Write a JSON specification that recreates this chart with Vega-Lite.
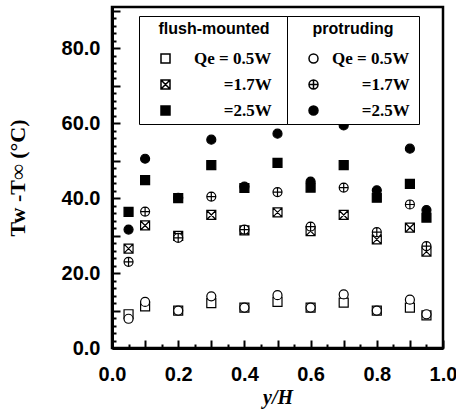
{
  "$schema": "https://vega.github.io/schema/vega-lite/v6.json",
  "width": 331,
  "height": 341,
  "autosize": "none",
  "padding": {"left": 112, "top": 7, "right": 13, "bottom": 68},
  "background": "white",
  "config": {
    "view": {"stroke": "black", "strokeWidth": 2.5},
    "axis": {"grid": false},
    "legend": {
      "orient": "none", "direction": "vertical",
      "padding": 5, "strokeColor": "black", "fillColor": "white",
      "titleFont": "Liberation Sans", "titleFontSize": 16, "titleFontWeight": "bold", "titleColor": "black",
      "titleAnchor": "middle", "titlePadding": 13,
      "labelFont": "Liberation Serif", "labelFontSize": 17, "labelFontWeight": "bold", "labelColor": "black",
      "symbolSize": 81, "rowPadding": 8
    }
  },
  "data": {
    "values": [
      {"type": "flush", "Qe": "0.5W", "x": 0.05, "y": 9.0},
      {"type": "flush", "Qe": "0.5W", "x": 0.1, "y": 11.1},
      {"type": "flush", "Qe": "0.5W", "x": 0.2, "y": 10.0},
      {"type": "flush", "Qe": "0.5W", "x": 0.3, "y": 12.0},
      {"type": "flush", "Qe": "0.5W", "x": 0.4, "y": 10.8},
      {"type": "flush", "Qe": "0.5W", "x": 0.5, "y": 12.3},
      {"type": "flush", "Qe": "0.5W", "x": 0.6, "y": 10.8},
      {"type": "flush", "Qe": "0.5W", "x": 0.7, "y": 12.1},
      {"type": "flush", "Qe": "0.5W", "x": 0.8, "y": 10.0},
      {"type": "flush", "Qe": "0.5W", "x": 0.9, "y": 10.8},
      {"type": "flush", "Qe": "0.5W", "x": 0.95, "y": 8.7},
      {"type": "flush", "Qe": "1.7W", "x": 0.05, "y": 26.5},
      {"type": "flush", "Qe": "1.7W", "x": 0.1, "y": 32.7},
      {"type": "flush", "Qe": "1.7W", "x": 0.2, "y": 29.9},
      {"type": "flush", "Qe": "1.7W", "x": 0.3, "y": 35.5},
      {"type": "flush", "Qe": "1.7W", "x": 0.4, "y": 31.4},
      {"type": "flush", "Qe": "1.7W", "x": 0.5, "y": 36.2},
      {"type": "flush", "Qe": "1.7W", "x": 0.6, "y": 31.2},
      {"type": "flush", "Qe": "1.7W", "x": 0.7, "y": 35.5},
      {"type": "flush", "Qe": "1.7W", "x": 0.8, "y": 29.0},
      {"type": "flush", "Qe": "1.7W", "x": 0.9, "y": 32.1},
      {"type": "flush", "Qe": "1.7W", "x": 0.95, "y": 25.7},
      {"type": "flush", "Qe": "2.5W", "x": 0.05, "y": 36.3},
      {"type": "flush", "Qe": "2.5W", "x": 0.1, "y": 44.8},
      {"type": "flush", "Qe": "2.5W", "x": 0.2, "y": 40.0},
      {"type": "flush", "Qe": "2.5W", "x": 0.3, "y": 48.8},
      {"type": "flush", "Qe": "2.5W", "x": 0.4, "y": 42.7},
      {"type": "flush", "Qe": "2.5W", "x": 0.5, "y": 49.4},
      {"type": "flush", "Qe": "2.5W", "x": 0.6, "y": 42.8},
      {"type": "flush", "Qe": "2.5W", "x": 0.7, "y": 48.8},
      {"type": "flush", "Qe": "2.5W", "x": 0.8, "y": 40.1},
      {"type": "flush", "Qe": "2.5W", "x": 0.9, "y": 43.8},
      {"type": "flush", "Qe": "2.5W", "x": 0.95, "y": 34.8},
      {"type": "protruding", "Qe": "0.5W", "x": 0.05, "y": 7.8},
      {"type": "protruding", "Qe": "0.5W", "x": 0.1, "y": 12.3},
      {"type": "protruding", "Qe": "0.5W", "x": 0.2, "y": 10.0},
      {"type": "protruding", "Qe": "0.5W", "x": 0.3, "y": 13.8},
      {"type": "protruding", "Qe": "0.5W", "x": 0.4, "y": 10.8},
      {"type": "protruding", "Qe": "0.5W", "x": 0.5, "y": 14.1},
      {"type": "protruding", "Qe": "0.5W", "x": 0.6, "y": 10.8},
      {"type": "protruding", "Qe": "0.5W", "x": 0.7, "y": 14.3},
      {"type": "protruding", "Qe": "0.5W", "x": 0.8, "y": 10.0},
      {"type": "protruding", "Qe": "0.5W", "x": 0.9, "y": 12.9},
      {"type": "protruding", "Qe": "0.5W", "x": 0.95, "y": 9.0},
      {"type": "protruding", "Qe": "1.7W", "x": 0.05, "y": 23.0},
      {"type": "protruding", "Qe": "1.7W", "x": 0.1, "y": 36.4},
      {"type": "protruding", "Qe": "1.7W", "x": 0.2, "y": 29.4},
      {"type": "protruding", "Qe": "1.7W", "x": 0.3, "y": 40.4},
      {"type": "protruding", "Qe": "1.7W", "x": 0.4, "y": 31.6},
      {"type": "protruding", "Qe": "1.7W", "x": 0.5, "y": 41.6},
      {"type": "protruding", "Qe": "1.7W", "x": 0.6, "y": 32.4},
      {"type": "protruding", "Qe": "1.7W", "x": 0.7, "y": 42.8},
      {"type": "protruding", "Qe": "1.7W", "x": 0.8, "y": 30.9},
      {"type": "protruding", "Qe": "1.7W", "x": 0.9, "y": 38.3},
      {"type": "protruding", "Qe": "1.7W", "x": 0.95, "y": 27.2},
      {"type": "protruding", "Qe": "2.5W", "x": 0.05, "y": 31.6},
      {"type": "protruding", "Qe": "2.5W", "x": 0.1, "y": 50.5},
      {"type": "protruding", "Qe": "2.5W", "x": 0.2, "y": 40.1},
      {"type": "protruding", "Qe": "2.5W", "x": 0.3, "y": 55.6},
      {"type": "protruding", "Qe": "2.5W", "x": 0.4, "y": 43.1},
      {"type": "protruding", "Qe": "2.5W", "x": 0.5, "y": 57.2},
      {"type": "protruding", "Qe": "2.5W", "x": 0.6, "y": 44.4},
      {"type": "protruding", "Qe": "2.5W", "x": 0.7, "y": 59.4},
      {"type": "protruding", "Qe": "2.5W", "x": 0.8, "y": 42.1},
      {"type": "protruding", "Qe": "2.5W", "x": 0.9, "y": 53.2},
      {"type": "protruding", "Qe": "2.5W", "x": 0.95, "y": 36.8}
    ]
  },
  "layer": [
    {
      "transform": [{"filter": "datum.type == 'flush'"}],
      "mark": {"type": "point", "filled": true, "stroke": "black", "strokeWidth": 1.2, "size": 81, "opacity": 1},
      "encoding": {
        "x": {
          "field": "x", "type": "quantitative",
          "scale": {"domain": [0, 1], "nice": false, "zero": false},
          "axis": {
            "orient": "bottom",
            "values": [0, 0.1, 0.2, 0.3, 0.4, 0.5, 0.6, 0.7, 0.8, 0.9, 1.0],
            "tickSize": -8, "tickWidth": 2, "tickColor": "black",
            "domain": true, "domainWidth": 3, "domainColor": "black",
            "labelExpr": "round(datum.value*10) % 2 == 0 ? format(datum.value, '.1f') : ''",
            "labelFont": "Liberation Sans", "labelFontSize": 20, "labelFontWeight": "bold", "labelColor": "black",
            "labelPadding": 24, "labelFlush": false, "labelOverlap": false,
            "title": "y/H", "titleFont": "Liberation Serif", "titleFontSize": 20, "titleFontStyle": "italic",
            "titleFontWeight": "bold", "titleColor": "black", "titlePadding": 3
          }
        },
        "y": {
          "field": "y", "type": "quantitative",
          "scale": {"domain": [0, 91], "nice": false, "zero": false},
          "axis": {
            "orient": "left",
            "values": [0, 10, 20, 30, 40, 50, 60, 70, 80, 90],
            "tickSize": -8, "tickWidth": 2, "tickColor": "black",
            "domain": true, "domainWidth": 3, "domainColor": "black",
            "labelExpr": "datum.value % 20 == 0 ? format(datum.value, '.1f') : ''",
            "labelFont": "Liberation Sans", "labelFontSize": 20, "labelFontWeight": "bold", "labelColor": "black",
            "labelPadding": 20, "labelFlush": false, "labelOverlap": false,
            "title": "Tw -T∞ (°C)", "titleFont": "Liberation Serif", "titleFontSize": 22,
            "titleFontWeight": "bold", "titleColor": "black", "titlePadding": 32
          }
        },
        "shape": {
          "field": "Qe", "type": "nominal",
          "scale": {"domain": ["0.5W", "1.7W", "2.5W"], "range": ["square", "M-1,-1H1V1H-1Z M-1,-1L1,1 M1,-1L-1,1", "square"]},
          "legend": {
            "title": "flush-mounted", "legendX": 27, "legendY": 9,
            "labelOffset": 20, "symbolOffset": 13,
            "labelExpr": "datum.value == '0.5W' ? 'Qe = 0.5W\u00a0\u00a0\u00a0\u200b' : '\u200b\u00a0\u00a0\u00a0\u00a0\u00a0\u00a0\u00a0=' + datum.value + '\u00a0\u00a0\u00a0\u200b'",
            "encode": {"symbols": {"update": {"stroke": {"value": "black"}, "strokeWidth": {"value": 1.2}}}}
          }
        },
        "fill": {
          "field": "Qe", "type": "nominal",
          "scale": {"domain": ["0.5W", "1.7W", "2.5W"], "range": ["white", "white", "black"]},
          "legend": {
            "title": "flush-mounted", "legendX": 27, "legendY": 9,
            "labelOffset": 20, "symbolOffset": 13,
            "labelExpr": "datum.value == '0.5W' ? 'Qe = 0.5W\u00a0\u00a0\u00a0\u200b' : '\u200b\u00a0\u00a0\u00a0\u00a0\u00a0\u00a0\u00a0=' + datum.value + '\u00a0\u00a0\u00a0\u200b'",
            "encode": {"symbols": {"update": {"stroke": {"value": "black"}, "strokeWidth": {"value": 1.2}}}}
          }
        }
      }
    },
    {
      "transform": [{"filter": "datum.type == 'protruding'"}],
      "mark": {"type": "point", "filled": true, "stroke": "black", "strokeWidth": 1.2, "size": 81, "opacity": 1},
      "encoding": {
        "x": {
          "field": "x", "type": "quantitative",
          "scale": {"domain": [0, 1], "nice": false, "zero": false},
          "axis": {
            "orient": "bottom",
            "values": [0.05, 0.15, 0.25, 0.35, 0.45, 0.55, 0.65, 0.75, 0.85, 0.95],
            "tickSize": -4, "tickWidth": 2, "tickColor": "black",
            "domain": false, "labels": false, "title": null
          }
        },
        "y": {
          "field": "y", "type": "quantitative",
          "scale": {"domain": [0, 91], "nice": false, "zero": false},
          "axis": {
            "orient": "left",
            "values": [2, 4, 6, 8, 12, 14, 16, 18, 22, 24, 26, 28, 32, 34, 36, 38, 42, 44, 46, 48, 52, 54, 56, 58, 62, 64, 66, 68, 72, 74, 76, 78, 82, 84, 86, 88],
            "tickSize": -4, "tickWidth": 2, "tickColor": "black",
            "domain": false, "labels": false, "title": null
          }
        },
        "shape": {
          "field": "Qe", "type": "nominal",
          "scale": {"domain": ["0.5W", "1.7W", "2.5W"], "range": ["circle", "M-1,0A1,1,0,1,1,1,0A1,1,0,1,1,-1,0Z M-1,0H1 M0,-1V1", "circle"]},
          "legend": {
            "title": "protruding", "legendX": 175, "legendY": 9,
            "labelOffset": 10, "symbolOffset": 13,
            "labelExpr": "datum.value == '0.5W' ? 'Qe = 0.5W\u00a0\u200b' : '\u200b\u00a0\u00a0\u00a0\u00a0\u00a0\u00a0\u00a0=' + datum.value + '\u00a0\u200b'",
            "encode": {"symbols": {"update": {"stroke": {"value": "black"}, "strokeWidth": {"value": 1.2}}}}
          }
        },
        "fill": {
          "field": "Qe", "type": "nominal",
          "scale": {"domain": ["0.5W", "1.7W", "2.5W"], "range": ["white", "white", "black"]},
          "legend": {
            "title": "protruding", "legendX": 175, "legendY": 9,
            "labelOffset": 10, "symbolOffset": 13,
            "labelExpr": "datum.value == '0.5W' ? 'Qe = 0.5W\u00a0\u200b' : '\u200b\u00a0\u00a0\u00a0\u00a0\u00a0\u00a0\u00a0=' + datum.value + '\u00a0\u200b'",
            "encode": {"symbols": {"update": {"stroke": {"value": "black"}, "strokeWidth": {"value": 1.2}}}}
          }
        }
      }
    }
  ],
  "resolve": {
    "scale": {"shape": "independent", "fill": "independent"},
    "legend": {"shape": "independent", "fill": "independent"},
    "axis": {"x": "independent", "y": "independent"}
  }
}
